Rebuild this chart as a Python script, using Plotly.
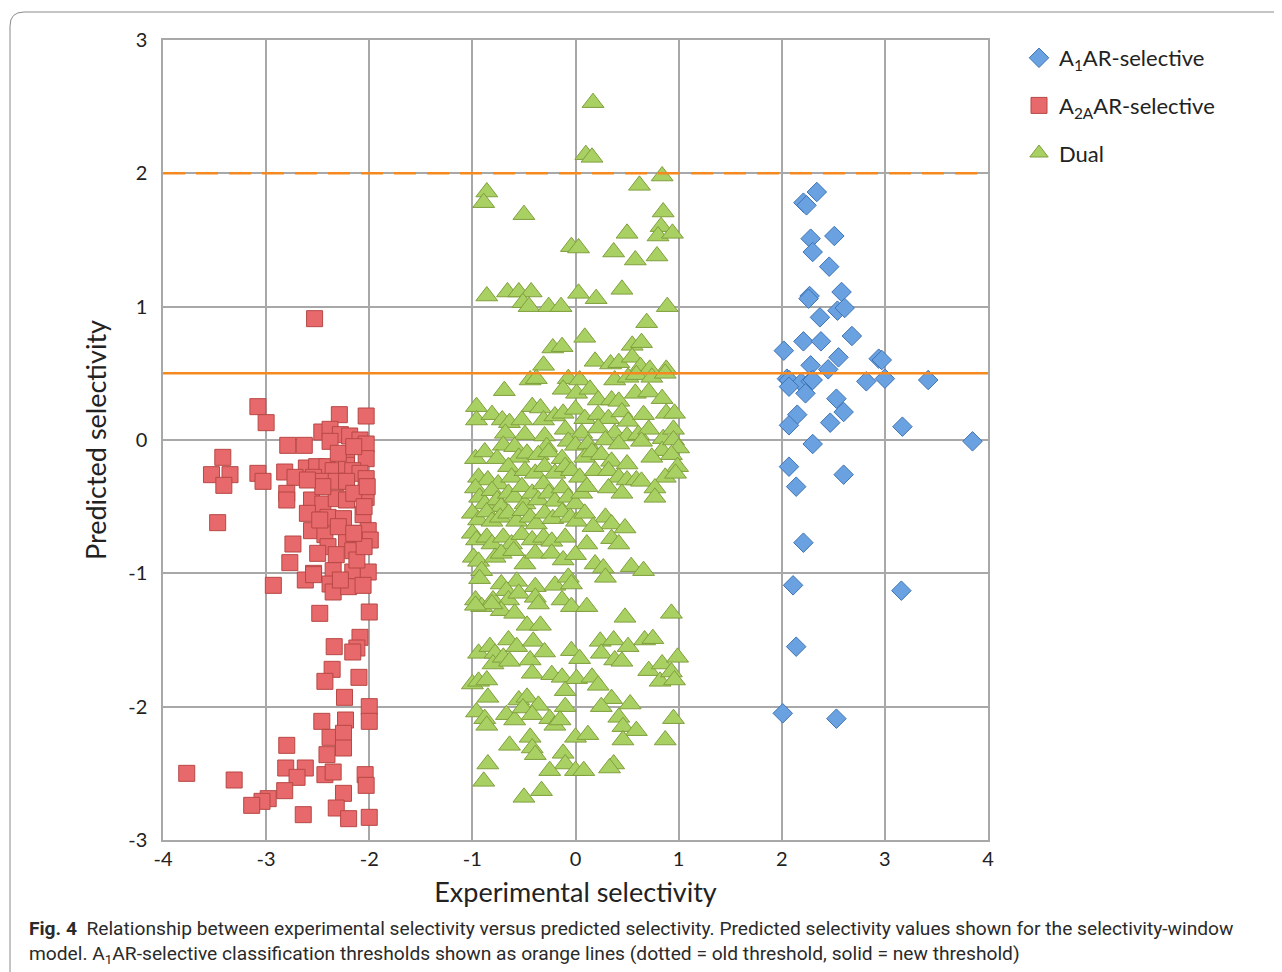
import plotly.graph_objects as go

# ---- data ----
a1_points = [
    (2.34, 1.86), (2.21, 1.78), (2.24, 1.76), (2.28, 1.51), (2.51, 1.53), (2.30, 1.41),
    (2.46, 1.30), (2.27, 1.08), (2.26, 1.06), (2.58, 1.11), (2.54, 0.97), (2.61, 0.99),
    (2.37, 0.92), (2.68, 0.78), (2.21, 0.74), (2.38, 0.74), (2.02, 0.67), (2.55, 0.62),
    (2.94, 0.61), (2.97, 0.60), (2.28, 0.56), (2.45, 0.53), (2.05, 0.46), (2.07, 0.45),
    (2.19, 0.43), (2.28, 0.44), (2.30, 0.45), (2.07, 0.40), (2.82, 0.44), (3.00, 0.46),
    (3.42, 0.45), (2.23, 0.35), (2.53, 0.31), (2.15, 0.19), (2.60, 0.21), (2.07, 0.11),
    (2.47, 0.13), (3.17, 0.10), (2.30, -0.03), (3.85, -0.01), (2.07, -0.20), (2.60, -0.26),
    (2.14, -0.35), (2.21, -0.77), (2.11, -1.09), (3.16, -1.13), (2.14, -1.55), (2.01, -2.05),
    (2.53, -2.09),
]

a2a_points = [
    (-2.53, 0.91), (-3.08, 0.25), (-3.00, 0.13), (-2.29, 0.19), (-2.03, 0.18), (-3.42, -0.13),
    (-3.53, -0.26), (-3.35, -0.26), (-3.41, -0.34), (-3.08, -0.25), (-3.03, -0.31), (-3.47, -0.62),
    (-2.79, -0.04), (-2.63, -0.04), (-2.46, 0.06), (-2.38, 0.08), (-2.28, 0.04), (-2.19, 0.03),
    (-2.38, -0.01), (-2.09, 0.00), (-2.03, -0.03), (-2.03, -0.14), (-2.22, -0.13), (-2.82, -0.24),
    (-2.61, -0.21), (-2.51, -0.20), (-2.41, -0.20), (-2.35, -0.23), (-2.22, -0.19), (-2.16, -0.23),
    (-2.09, -0.25), (-2.03, -0.29), (-2.72, -0.28), (-2.54, -0.28), (-2.45, -0.31), (-2.32, -0.31),
    (-2.22, -0.31), (-2.80, -0.40), (-2.80, -0.45), (-2.56, -0.45), (-2.45, -0.48), (-2.32, -0.44),
    (-2.22, -0.45), (-2.03, -0.43), (-2.40, -0.58), (-2.25, -0.59), (-2.06, -0.56), (-2.56, -0.68),
    (-2.43, -0.71), (-2.22, -0.75), (-2.09, -0.70), (-2.01, -0.68), (-1.99, -0.75), (-2.74, -0.78),
    (-2.77, -0.92), (-2.40, -0.80), (-2.32, -0.86), (-2.16, -0.83), (-2.54, -1.00), (-2.35, -0.98),
    (-2.16, -0.99), (-2.01, -0.99), (-2.93, -1.09), (-2.62, -1.05), (-2.54, -1.01), (-2.38, -1.08),
    (-2.35, -1.14), (-2.20, -1.10), (-2.06, -1.09), (-2.48, -1.30), (-2.00, -1.29), (-2.09, -1.48),
    (-2.12, -1.56), (-2.16, -1.59), (-2.34, -1.55), (-2.36, -1.72), (-2.43, -1.81), (-2.10, -1.78),
    (-2.24, -1.93), (-2.00, -2.00), (-2.00, -2.11), (-2.46, -2.11), (-2.23, -2.10), (-2.38, -2.23),
    (-2.25, -2.20), (-2.25, -2.31), (-2.80, -2.29), (-2.41, -2.36), (-2.43, -2.51), (-2.35, -2.49),
    (-2.81, -2.46), (-2.62, -2.46), (-2.70, -2.53), (-2.04, -2.51), (-2.03, -2.59), (-3.77, -2.50),
    (-3.31, -2.55), (-2.82, -2.63), (-2.98, -2.69), (-3.04, -2.71), (-3.14, -2.74), (-2.25, -2.65),
    (-2.64, -2.81), (-2.32, -2.76), (-2.20, -2.84), (-2.00, -2.83),
    (-2.30, -0.10), (-2.15, -0.05), (-2.45, -0.35), (-2.60, -0.55), (-2.30, -0.65), (-2.15, -0.40),
    (-2.05, -0.50), (-2.50, -0.85), (-2.12, -0.90), (-2.05, -0.80), (-2.28, -1.05), (-2.15, -0.70),
    (-2.02, -0.35), (-2.48, -0.60), (-2.60, -0.30),
]

dual_points = [
    (0.17, 2.53), (0.10, 2.14), (0.16, 2.12), (0.84, 1.98), (0.62, 1.91), (-0.86, 1.86),
    (-0.89, 1.78), (-0.50, 1.69), (0.85, 1.71), (0.83, 1.60), (0.80, 1.53), (0.94, 1.55),
    (0.50, 1.55), (-0.04, 1.45), (0.03, 1.44), (0.37, 1.41), (0.58, 1.35), (0.79, 1.38),
    (-0.86, 1.08), (-0.66, 1.11), (-0.55, 1.11), (-0.43, 1.11), (-0.51, 1.03), (-0.45, 1.00),
    (-0.26, 1.00), (-0.14, 1.00), (0.03, 1.10), (0.20, 1.06), (0.45, 1.13), (0.89, 1.00),
    (0.69, 0.88), (0.09, 0.77), (-0.22, 0.69), (-0.13, 0.70), (0.55, 0.71), (0.64, 0.73),
    (-0.31, 0.56), (0.19, 0.59), (0.34, 0.57), (0.42, 0.58), (0.55, 0.62), (0.63, 0.55),
    (0.88, 0.53), (0.72, 0.53),
    (-0.44, 0.45), (-0.38, 0.46), (-0.07, 0.46), (0.04, 0.45), (0.38, 0.45), (0.51, 0.47),
    (0.59, 0.49), (0.74, 0.47), (0.87, 0.50), (-0.69, 0.37),
    (-0.12, 0.38), (0.01, 0.35), (0.14, 0.38), (0.22, 0.30), (0.35, 0.30), (0.42, 0.29),
    (0.58, 0.35), (0.71, 0.36), (0.84, 0.31),
    (-0.96, 0.25), (-0.96, 0.15), (-0.81, 0.19), (-0.71, 0.15), (-0.64, 0.13), (-0.52, 0.15),
    (-0.42, 0.25), (-0.34, 0.24), (-0.31, 0.15), (-0.20, 0.18), (-0.12, 0.20), (0.00, 0.23),
    (0.09, 0.16), (0.22, 0.19), (0.32, 0.16), (0.45, 0.21), (0.51, 0.14), (0.66, 0.19),
    (0.88, 0.20), (0.96, 0.20),
    (-0.68, 0.05), (-0.49, 0.04), (-0.30, 0.03), (-0.10, 0.08), (0.06, 0.05), (0.22, 0.09),
    (0.38, 0.05), (0.50, 0.03), (0.61, 0.04), (0.71, 0.08), (0.85, 0.01), (0.95, 0.08),
    (-0.70, -0.04), (-0.59, -0.05), (-0.28, -0.05), (-0.07, -0.01), (0.00, -0.04), (0.12, -0.03),
    (0.29, 0.00), (0.42, -0.03), (0.64, -0.01), (0.84, -0.08), (0.95, 0.00), (1.00, -0.06),
    (-0.97, -0.14), (-0.88, -0.09), (-0.76, -0.14), (-0.55, -0.13), (-0.47, -0.10), (-0.36, -0.11),
    (-0.26, -0.09), (-0.13, -0.14), (0.09, -0.13), (0.16, -0.09), (0.25, -0.11), (0.35, -0.16),
    (0.50, -0.18), (0.74, -0.13), (0.93, -0.11), (0.99, -0.20),
    (-0.94, -0.28), (-0.85, -0.30), (-0.75, -0.33), (-0.65, -0.20), (-0.62, -0.28), (-0.49, -0.23),
    (-0.39, -0.25), (-0.30, -0.20), (-0.20, -0.25), (-0.10, -0.20), (-0.04, -0.23), (0.04, -0.28),
    (0.19, -0.23), (0.32, -0.23), (0.42, -0.28), (0.50, -0.30), (0.59, -0.30), (0.87, -0.28),
    (0.97, -0.25),
    (-0.97, -0.36), (-0.93, -0.43), (-0.88, -0.48), (-0.81, -0.38), (-0.76, -0.45), (-0.72, -0.50),
    (-0.65, -0.40), (-0.59, -0.43), (-0.52, -0.35), (-0.49, -0.48), (-0.42, -0.40), (-0.36, -0.45),
    (-0.31, -0.33), (-0.26, -0.40), (-0.20, -0.46), (-0.13, -0.36), (-0.07, -0.43), (0.00, -0.48),
    (0.06, -0.40), (0.11, -0.35),
    (-1.00, -0.55), (-0.94, -0.60), (-0.86, -0.54), (-0.81, -0.61), (-0.73, -0.58), (-0.65, -0.55),
    (-0.57, -0.61), (-0.51, -0.53), (-0.44, -0.58), (-0.38, -0.63), (-0.30, -0.55), (-0.22, -0.59),
    (-0.13, -0.54), (-0.05, -0.58), (0.01, -0.61), (0.09, -0.55),
    (0.29, -0.58), (0.35, -0.63), (0.48, -0.66), (0.32, -0.36), (0.45, -0.40), (0.64, -0.31),
    (0.77, -0.36), (0.77, -0.43), (0.17, -0.65),
    (-1.00, -0.70), (-0.96, -0.75), (-0.86, -0.73), (-0.81, -0.78), (-0.70, -0.73), (-0.62, -0.78),
    (-0.52, -0.71), (-0.42, -0.75), (-0.31, -0.73), (-0.23, -0.76), (-0.10, -0.73), (0.35, -0.74),
    (0.42, -0.78), (0.11, -0.78),
    (-0.99, -0.88), (-0.94, -0.91), (-0.91, -0.98), (-0.78, -0.88), (-0.72, -0.85), (-0.60, -0.83),
    (-0.49, -0.93), (-0.39, -0.85), (-0.23, -0.85), (-0.12, -0.90), (0.00, -0.86), (0.19, -0.93),
    (0.27, -0.96), (0.29, -1.03), (0.54, -0.95), (0.66, -0.98),
    (-0.93, -1.04), (-0.72, -1.08), (-0.57, -1.06), (-0.39, -1.10), (-0.20, -1.09), (-0.07, -1.03),
    (-0.04, -1.08),
    (-0.97, -1.20), (-0.91, -1.25), (-0.80, -1.20), (-0.67, -1.13), (-0.65, -1.20), (-0.55, -1.15),
    (-0.39, -1.18), (-0.36, -1.23), (-0.13, -1.20), (-0.04, -1.25), (0.11, -1.25), (0.48, -1.33),
    (0.93, -1.30), (-0.72, -1.28), (-0.59, -1.30), (-0.47, -1.39), (-0.34, -1.39), (-0.81, -1.23),
    (-0.97, -1.24),
    (-0.94, -1.60), (-0.83, -1.55), (-0.78, -1.60), (-0.80, -1.68), (-0.70, -1.63), (-0.65, -1.50),
    (-0.64, -1.66), (-0.57, -1.55), (-0.44, -1.65), (-0.41, -1.51), (-0.42, -1.75), (-0.30, -1.59),
    (-0.23, -1.76), (-0.13, -1.78), (-0.04, -1.58), (0.04, -1.64), (0.01, -1.79), (0.16, -1.78),
    (0.22, -1.84), (0.24, -1.51), (0.25, -1.60), (0.37, -1.50), (0.38, -1.65), (0.45, -1.66),
    (0.51, -1.55), (0.67, -1.50), (0.75, -1.49), (0.71, -1.73), (0.84, -1.68), (0.82, -1.81),
    (0.93, -1.74), (0.96, -1.80), (0.99, -1.63),
    (-1.00, -1.83), (-0.94, -1.81), (-0.86, -1.80), (-0.85, -1.93), (-0.55, -1.95), (-0.47, -1.93),
    (-0.36, -1.99), (-0.10, -1.88), (-0.10, -2.00), (0.35, -1.94), (0.53, -1.98), (0.25, -2.00),
    (-0.96, -2.04), (-0.88, -2.09), (-0.86, -2.14), (-0.67, -2.06), (-0.59, -2.10), (-0.51, -2.01),
    (-0.42, -2.06), (-0.25, -2.09), (-0.20, -2.14), (-0.15, -2.10), (0.00, -2.23), (0.12, -2.21),
    (0.42, -2.08), (0.46, -2.15), (0.59, -2.18), (0.46, -2.25), (0.95, -2.09), (0.87, -2.25),
    (-0.64, -2.29), (-0.44, -2.23), (-0.42, -2.31), (-0.39, -2.36), (-0.12, -2.35), (-0.10, -2.43),
    (0.00, -2.48), (0.08, -2.48), (0.37, -2.43), (0.33, -2.46),
    (-0.85, -2.43), (-0.89, -2.56), (-0.25, -2.48), (-0.33, -2.63), (-0.50, -2.68),
]

series_names = ["A<sub>1</sub>AR-selective", "A<sub>2A</sub>AR-selective", "Dual"]
old_threshold = 2.0
new_threshold = 0.5
x_ticks = [-4, -3, -2, -1, 0, 1, 2, 3, 4]
y_ticks = [-3, -2, -1, 0, 1, 2, 3]

FONT = "Lato, 'Open Sans', sans-serif"
ORANGE = "#f5891f"
GRID = "#a8a8a8"

fig = go.Figure()

def add_series(points, name, symbol, size, fill, edge, group):
    fig.add_trace(go.Scatter(
        x=[p[0] for p in points], y=[p[1] for p in points],
        mode="markers", name=name, legendgroup=group,
        marker=dict(symbol=symbol, size=size, color=fill,
                    line=dict(color=edge, width=1)),
    ))

add_series(a1_points, series_names[0], "diamond", 15, "#6aa1e0", "#3f74b5", "g1")
add_series(a2a_points, series_names[1], "square", 16, "#e8696b", "#b64845", "g2")
add_series(dual_points, series_names[2], "triangle-up", 19, "#a8d062", "#809f3d", "g3")

# threshold lines (drawn across the full x range)
fig.add_trace(go.Scatter(x=[x_ticks[0], x_ticks[-1]], y=[old_threshold, old_threshold],
                         mode="lines", showlegend=False, hoverinfo="skip",
                         line=dict(color=ORANGE, width=2.5, dash="22px,11px")))
fig.add_trace(go.Scatter(x=[x_ticks[0], x_ticks[-1]], y=[new_threshold, new_threshold],
                         mode="lines", showlegend=False, hoverinfo="skip",
                         line=dict(color=ORANGE, width=2.5)))

caption = ("<b>Fig. 4</b>  Relationship between experimental selectivity versus predicted selectivity. "
           "Predicted selectivity values shown for the selectivity-window<br>"
           "model. A<sub>1</sub>AR-selective classification thresholds shown as orange lines "
           "(dotted = old threshold, solid = new threshold)")

# page offset of the plot div (body margin) and plot area in page pixels
OFF = 8
L, R, T, B = 163, 988, 40, 840
pw, ph = R - L, B - T

def px_x(px):
    return (px - L) / pw

def px_y(py):
    return (B - py) / ph

fig.add_annotation(text=caption, xref="paper", yref="paper",
                   x=px_x(27), y=px_y(915), xanchor="left", yanchor="top",
                   align="left", showarrow=False,
                   font=dict(family="Roboto, sans-serif", size=19.2, color="#2a2a2a"))

# rounded frame around the figure
x0, y1 = px_x(10), px_y(12)
x1, y0 = px_x(1300), px_y(1000)
rx, ry = 14 / pw, 14 / ph
fig.add_shape(type="path", xref="paper", yref="paper",
              path=f"M {x0},{y0} L {x0},{y1 - ry} Q {x0},{y1} {x0 + rx},{y1} L {x1},{y1}",
              line=dict(color="#8a8a8a", width=1))

fig.update_layout(
    width=1282, height=972,
    margin=dict(l=L - OFF, r=1282 - (R - OFF), t=T - OFF, b=972 - (B - OFF)),
    paper_bgcolor="white", plot_bgcolor="white",
    font=dict(family=FONT, color="#222222"),
    showlegend=True,
    legend=dict(x=px_x(1019), y=px_y(37), xanchor="left", yanchor="top",
                font=dict(family=FONT, size=22, color="#222222"),
                tracegroupgap=16, bgcolor="rgba(0,0,0,0)"),
)
fig.update_xaxes(range=[x_ticks[0], x_ticks[-1]], tickvals=x_ticks, ticktext=[str(v) for v in x_ticks],
                 showgrid=True, gridcolor=GRID, gridwidth=1.5, zeroline=False,
                 showline=True, linecolor=GRID, linewidth=1.5, mirror=True,
                 ticks="", tickfont=dict(family=FONT, size=20, color="#222222"),
                 title=dict(text="Experimental selectivity", standoff=14,
                            font=dict(family=FONT, size=27, color="#222222")))
fig.update_yaxes(range=[y_ticks[0], y_ticks[-1]], tickvals=y_ticks, ticktext=[str(v) for v in y_ticks],
                 showgrid=True, gridcolor=GRID, gridwidth=1.5, zeroline=False,
                 showline=True, linecolor=GRID, linewidth=1.5, mirror=True,
                 ticks="", ticklabelstandoff=10, tickfont=dict(family=FONT, size=20, color="#222222"),
                 title=dict(text="Predicted selectivity", standoff=14,
                            font=dict(family=FONT, size=27, color="#222222")))

fig.write_html("out.html")
